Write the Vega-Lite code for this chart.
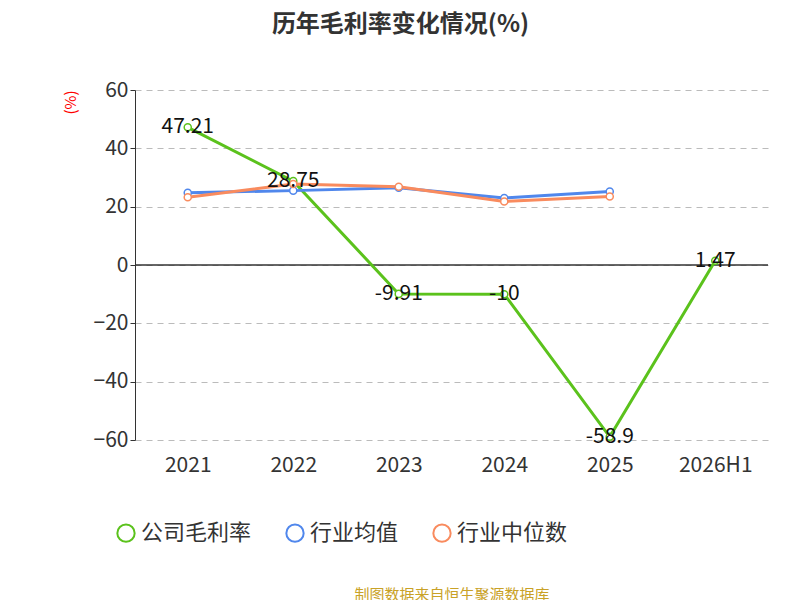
{
"$schema":"https://vega.github.io/schema/vega-lite/v6.json",
"width":633,"height":350,
"autosize":"none",
"padding":{"left":135,"top":90,"right":32,"bottom":160},
"title":{"text":"历年毛利率变化情况(%)","fontSize":24,"fontWeight":"bold","color":"#333","font":"Noto Sans CJK SC","offset":42,"anchor":"middle","dx":-51},
"config":{"font":"Noto Sans CJK SC","view":{"stroke":null}},
"data":{"values":[
{"year":"2021","series":"公司毛利率","value":47.21},
{"year":"2022","series":"公司毛利率","value":28.75},
{"year":"2023","series":"公司毛利率","value":-9.91},
{"year":"2024","series":"公司毛利率","value":-10},
{"year":"2025","series":"公司毛利率","value":-58.9},
{"year":"2026H1","series":"公司毛利率","value":1.47},
{"year":"2021","series":"行业均值","value":24.8},
{"year":"2022","series":"行业均值","value":25.5},
{"year":"2023","series":"行业均值","value":26.5},
{"year":"2024","series":"行业均值","value":23.0},
{"year":"2025","series":"行业均值","value":25.2},
{"year":"2021","series":"行业中位数","value":23.2},
{"year":"2022","series":"行业中位数","value":27.8},
{"year":"2023","series":"行业中位数","value":26.8},
{"year":"2024","series":"行业中位数","value":21.8},
{"year":"2025","series":"行业中位数","value":23.5}
]},
"encoding":{
"x":{"field":"year","type":"ordinal","sort":null,"scale":{"type":"point","padding":0.5,"domain":["2021","2022","2023","2024","2025","2026H1"]},
"axis":{"title":"制图数据来自恒生聚源数据库","titleColor":"#c9a227","titleFontSize":15,"titleFontWeight":"normal","titlePadding":112,"labelAngle":0,"labelFontSize":21,"labelColor":"#333","labelPadding":14,"domain":false,"ticks":false}},
"y":{"field":"value","type":"quantitative","scale":{"domain":[-60,60],"nice":false},
"axis":{"values":[-60,-40,-20,0,20,40,60],"title":"(%)","titleColor":"red","titleFontSize":15,"titleFontWeight":"normal","titleAnchor":"end","titlePadding":15,"labelFontSize":21,"labelColor":"#333","domainColor":"#333","tickColor":"#333","gridDash":[6,5],"gridColor":"#bbb"}}
},
"layer":[
{"mark":{"type":"rule","color":"#333","strokeWidth":1.5},"data":{"values":[{"z":0}]},"encoding":{"y":{"field":"z","type":"quantitative"},"x":{}}},
{"mark":{"type":"line","strokeWidth":3,"point":{"filled":false,"fill":"white","size":50,"strokeWidth":1.5}},
"encoding":{"color":{"field":"series","type":"nominal","sort":["公司毛利率","行业均值","行业中位数"],
"scale":{"domain":["公司毛利率","行业均值","行业中位数"],"range":["#5bc21c","#5087ec","#f98b5e"]},
"legend":{"orient":"none","legendX":-20,"legendY":432,"direction":"horizontal","title":null,"labelFontSize":22,"labelColor":"#333","symbolType":"circle","symbolFillColor":"white","symbolSize":300,"symbolStrokeWidth":2,"columnPadding":30}}}},
{"transform":[{"filter":"datum.series == '公司毛利率'"}],"mark":{"type":"text","fontSize":21,"color":"#111"},"encoding":{"text":{"field":"value","type":"nominal"}}}
]
}
